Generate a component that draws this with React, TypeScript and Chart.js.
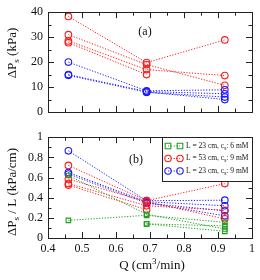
import React, { useEffect, useRef } from "react";
import { Chart, registerables } from "chart.js";

Chart.register(...registerables);

// ---------- data ----------
const Q = [0.46, 0.69, 0.92];

// panel (a): ΔPs (kPa)
const redA1 = [38.3, 19.8, 28.9];
const redA2 = [31.0, 19.0, 10.7];
const redA3 = [28.5, 17.0, 14.6];
const redA4 = [27.8, 15.0, null];
const blueA1 = [20.0, 8.5, 8.9];
const blueA2 = [15.0, 8.2, 7.3];
const blueA3 = [14.7, 7.9, 6.0];
const blueA4 = [null, 8.0, 5.0];

// panel (b): ΔPs / L (kPa/cm)
const greenB1 = [0.62, 0.235, 0.09];
const greenB2 = [0.175, 0.225, 0.155];
const greenB3 = [null, 0.14, 0.12];
const greenB4 = [null, 0.14, 0.066];
const redB1 = [0.72, 0.37, 0.54];
const redB2 = [0.585, 0.36, 0.19];
const redB3 = [0.54, 0.32, 0.275];
const redB4 = [0.525, 0.28, null];
const blueB1 = [0.865, 0.37, 0.375];
const blueB2 = [0.65, 0.36, 0.32];
const blueB3 = [0.635, 0.345, 0.27];
const blueB4 = [null, 0.35, 0.22];

const xTicks = [0.4, 0.5, 0.6, 0.7, 0.8, 0.9, 1];
const yTicksA = [0, 10, 20, 30, 40];
const yTicksB = [0, 0.2, 0.4, 0.6, 0.8, 1];

const legendLabels = [
  ["L = 23 cm, c", "s", ": 6 mM"],
  ["L = 53 cm, c", "s", ": 9 mM"],
  ["L = 23 cm, c", "s", ": 9 mM"],
];

// ---------- styles ----------
const RED = "#ff1a1a";
const BLUE = "#1a1aff";
const GREEN = "#1f9f1f";
const FONT = "'Liberation Serif', 'DejaVu Serif', serif";

function toPts(vals: (number | null)[]) {
  const out: { x: number; y: number }[] = [];
  vals.forEach((v, i) => {
    if (v !== null) out.push({ x: Q[i], y: v });
  });
  return out;
}

function ds(vals: (number | null)[], color: string, square = false) {
  return {
    data: toPts(vals),
    borderColor: color,
    backgroundColor: "rgba(0,0,0,0)",
    borderWidth: 1,
    borderDash: [1.2, 1.6],
    pointStyle: square ? "rect" : "circle",
    pointRadius: square ? 3.2 : 3.3,
    pointBorderWidth: 1.1,
    pointBorderColor: color,
    pointBackgroundColor: "rgba(0,0,0,0)",
    showLine: true,
    tension: 0,
  };
}

function drawText(
  ctx: CanvasRenderingContext2D,
  parts: { t: string; shift?: number; small?: boolean }[],
  size: number
) {
  let total = 0;
  parts.forEach((p) => {
    ctx.font = `${p.small ? size * 0.7 : size}px ${FONT}`;
    total += ctx.measureText(p.t).width;
  });
  let x = -total / 2;
  parts.forEach((p) => {
    ctx.font = `${p.small ? size * 0.7 : size}px ${FONT}`;
    ctx.fillText(p.t, x, p.shift || 0);
    x += ctx.measureText(p.t).width;
  });
}

function framePlugin(cfg: {
  yMinorStep: number;
  yMax: number;
  ytitle: { t: string; shift?: number; small?: boolean }[];
  ytitleY: number;
  panel: string;
  panelX: number;
  panelY: number;
  xTitle: boolean;
  legend: boolean;
}) {
  return {
    id: "frame" + cfg.panel,
    afterDraw(chart: any) {
      const ctx: CanvasRenderingContext2D = chart.ctx;
      const { left, right, top, bottom } = chart.chartArea;
      const xs = chart.scales.x;
      const ys = chart.scales.y;
      ctx.save();
      ctx.strokeStyle = "#222";
      ctx.lineWidth = 1;
      ctx.strokeRect(Math.round(left) + 0.5, Math.round(top) + 0.5, Math.round(right - left), Math.round(bottom - top));
      ctx.beginPath();
      for (let i = 0; i <= 12; i++) {
        const v = 0.4 + i * 0.05;
        const px = Math.round(xs.getPixelForValue(v)) + 0.5;
        const len = i % 2 === 0 ? 6 : 3.5;
        ctx.moveTo(px, bottom);
        ctx.lineTo(px, bottom - len);
        ctx.moveTo(px, top);
        ctx.lineTo(px, top + len);
      }
      const n = Math.round(cfg.yMax / cfg.yMinorStep);
      for (let i = 0; i <= n; i++) {
        const v = i * cfg.yMinorStep;
        const py = Math.round(ys.getPixelForValue(v)) + 0.5;
        const len = i % 2 === 0 ? 6 : 3.5;
        ctx.moveTo(left, py);
        ctx.lineTo(left + len, py);
        ctx.moveTo(right, py);
        ctx.lineTo(right - len, py);
      }
      ctx.stroke();

      ctx.fillStyle = "#111";
      ctx.save();
      ctx.translate(13, cfg.ytitleY);
      ctx.rotate(-Math.PI / 2);
      ctx.textBaseline = "middle";
      drawText(ctx, cfg.ytitle, 13);
      ctx.restore();

      ctx.font = `12px ${FONT}`;
      ctx.textAlign = "center";
      ctx.textBaseline = "middle";
      ctx.fillText(cfg.panel, cfg.panelX, cfg.panelY);
      ctx.textAlign = "left";

      if (cfg.xTitle) {
        ctx.save();
        ctx.translate(152, 141);
        ctx.textBaseline = "middle";
        drawText(
          ctx,
          [
            { t: "Q (cm" },
            { t: "3", small: true, shift: -4 },
            { t: "/min)" },
          ],
          13
        );
        ctx.restore();
      }

      if (cfg.legend) {
        const bx = 162, by = 12, bw = Math.round(right) - bx, bh = 44;
        ctx.fillStyle = "#fff";
        ctx.fillRect(bx, by, bw, bh);
        ctx.strokeStyle = "#222";
        ctx.strokeRect(bx + 0.5, by + 0.5, bw, bh);
        const colors = [GREEN, RED, BLUE];
        legendLabels.forEach((lab, i) => {
          const y = by + 9 + i * 12.5;
          const c = colors[i];
          ctx.strokeStyle = c;
          ctx.lineWidth = 1;
          ctx.setLineDash([1.2, 1.6]);
          ctx.beginPath();
          ctx.moveTo(168, y);
          ctx.lineTo(180, y);
          ctx.stroke();
          ctx.setLineDash([]);
          ctx.lineWidth = 1.1;
          [168, 180].forEach((mx) => {
            ctx.beginPath();
            if (i === 0) ctx.rect(mx - 2.8, y - 2.8, 5.6, 5.6);
            else ctx.arc(mx, y, 3.2, 0, Math.PI * 2);
            ctx.stroke();
          });
          ctx.fillStyle = "#111";
          ctx.textBaseline = "middle";
          let x = 186;
          ctx.font = `7.5px ${FONT}`;
          ctx.fillText(lab[0], x, y);
          x += ctx.measureText(lab[0]).width;
          ctx.font = `5.5px ${FONT}`;
          ctx.fillText(lab[1], x, y + 2.5);
          x += ctx.measureText(lab[1]).width;
          ctx.font = `7.5px ${FONT}`;
          ctx.fillText(lab[2], x, y);
        });
      }
      ctx.restore();
    },
  };
}

function fmt(v: number) {
  if (Math.abs(v) < 1e-9) return "0";
  if (Math.abs(v - 1) < 1e-9) return "1";
  return Number.isInteger(v) ? String(v) : v.toFixed(1);
}

function makeConfig(
  datasets: any[],
  yMax: number,
  yTickVals: number[],
  showX: boolean,
  padTop: number,
  xHeight: number,
  plugin: any
): any {
  return {
    type: "scatter",
    data: { datasets },
    plugins: [plugin],
    options: {
      responsive: false,
      animation: false,
      events: [],
      layout: { padding: { top: padTop, right: 8, left: 0, bottom: 0 } },
      plugins: { legend: { display: false }, tooltip: { enabled: false } },
      scales: {
        x: {
          type: "linear",
          min: 0.4,
          max: 1,
          grid: { display: false, drawTicks: false },
          border: { display: false },
          afterBuildTicks: (s: any) => {
            s.ticks = xTicks.map((v) => ({ value: v }));
          },
          ticks: {
            display: showX,
            padding: 4,
            color: "#111",
            font: { family: FONT, size: 12 },
            maxRotation: 0,
            autoSkip: false,
            callback: (v: number) => fmt(v),
          },
          afterFit: (s: any) => {
            s.height = xHeight;
          },
        },
        y: {
          min: 0,
          max: yMax,
          grid: { display: false, drawTicks: false },
          border: { display: false },
          afterBuildTicks: (s: any) => {
            s.ticks = yTickVals.map((v) => ({ value: v }));
          },
          ticks: {
            padding: 5,
            color: "#111",
            font: { family: FONT, size: 12 },
            autoSkip: false,
            callback: (v: number) => fmt(v),
          },
          afterFit: (s: any) => {
            s.width = 48;
          },
        },
      },
    },
  };
}

export default function App() {
  const topRef = useRef<HTMLCanvasElement>(null);
  const botRef = useRef<HTMLCanvasElement>(null);

  useEffect(() => {
    const topSets = [
      ds(blueA1, BLUE), ds(blueA2, BLUE), ds(blueA3, BLUE), ds(blueA4, BLUE),
      ds(redA1, RED), ds(redA2, RED), ds(redA3, RED), ds(redA4, RED),
    ];
    const botSets = [
      ds(greenB1, GREEN, true), ds(greenB2, GREEN, true), ds(greenB3, GREEN, true), ds(greenB4, GREEN, true),
      ds(redB1, RED), ds(redB2, RED), ds(redB3, RED), ds(redB4, RED),
      ds(blueB1, BLUE), ds(blueB2, BLUE), ds(blueB3, BLUE), ds(blueB4, BLUE),
    ];
    const c1 = new Chart(
      topRef.current as HTMLCanvasElement,
      makeConfig(topSets, 40, yTicksA, false, 10, 13,
        framePlugin({
          yMinorStep: 5, yMax: 40,
          ytitle: [{ t: "ΔP" }, { t: "s", small: true, shift: 4 }, { t: " (kPa)" }],
          ytitleY: 53, panel: "(a)", panelX: 145, panelY: 32, xTitle: false, legend: false,
        }))
    );
    const c2 = new Chart(
      botRef.current as HTMLCanvasElement,
      makeConfig(botSets, 1, yTicksB, true, 12, 42,
        framePlugin({
          yMinorStep: 0.1, yMax: 1,
          ytitle: [{ t: "ΔP" }, { t: "s", small: true, shift: 4 }, { t: " / L (kPa/cm)" }],
          ytitleY: 67, panel: "(b)", panelX: 136, panelY: 35, xTitle: true, legend: true,
        }))
    );
    return () => {
      c1.destroy();
      c2.destroy();
    };
  }, []);

  return (
    <div style={{ position: "fixed", left: 0, top: 0, width: 260, height: 280, background: "#fff" }}>
      <canvas ref={topRef} width={260} height={125} style={{ position: "absolute", left: 0, top: 0 }} />
      <canvas ref={botRef} width={260} height={155} style={{ position: "absolute", left: 0, top: 125 }} />
    </div>
  );
}
